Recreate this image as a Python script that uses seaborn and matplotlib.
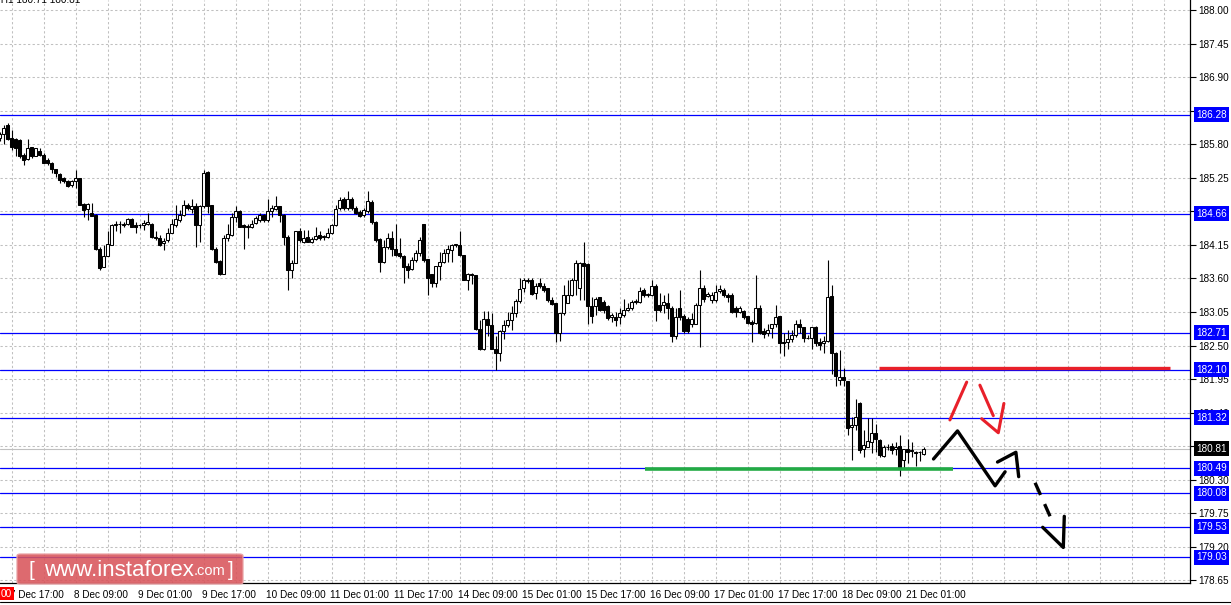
import numpy as np
import matplotlib
matplotlib.use("Agg")
import matplotlib.pyplot as plt
import matplotlib.transforms as mtransforms
from matplotlib.patches import FancyBboxPatch, Rectangle
from matplotlib.text import Annotation
import seaborn as sns

# hourly candles, bar index -1 .. 230
opens = [
    185.90, 185.97, 186.11, 185.90, 185.88, 185.87, 185.62, 185.55, 185.75, 185.61,
    185.69, 185.62, 185.54, 185.49, 185.39, 185.31, 185.24, 185.20, 185.13, 185.19,
    185.24, 184.82, 184.73, 184.68, 184.64, 184.09, 183.79, 183.97, 184.15, 184.47,
    184.49, 184.47, 184.50, 184.57, 184.47, 184.47, 184.47, 184.50, 184.50, 184.28,
    184.27, 184.18, 184.23, 184.35, 184.47, 184.56, 184.64, 184.81, 184.73, 184.78,
    184.47, 184.78, 185.35, 184.80, 184.09, 183.88, 183.68, 184.26, 184.31, 184.60,
    184.70, 184.47, 184.45, 184.44, 184.51, 184.55, 184.64, 184.55, 184.71, 184.73,
    184.78, 184.64, 184.28, 183.74, 183.86, 184.38, 184.20, 184.28, 184.20, 184.24,
    184.31, 184.28, 184.28, 184.35, 184.47, 184.75, 184.90, 184.75, 184.91, 184.76,
    184.69, 184.64, 184.71, 184.86, 184.53, 184.24, 183.87, 184.12, 184.26, 184.09,
    184.01, 183.96, 183.80, 183.75, 183.91, 184.01,
    184.50, 183.92, 183.67, 183.52, 183.80, 183.87, 184.02, 184.06, 184.15, 184.15,
    183.99, 183.58, 183.68, 183.66, 182.77, 182.44, 182.93, 182.83, 182.44, 182.37,
    182.74, 182.83, 182.92, 183.04, 183.23, 183.44, 183.56, 183.58, 183.36, 183.52,
    183.48, 183.44, 183.25, 183.19, 182.70, 183.03, 183.20, 183.33, 183.58, 183.44,
    183.85, 183.84, 183.15, 183.14, 183.29, 183.22, 183.14, 182.96, 182.97, 182.96,
    183.00, 183.09, 183.11, 183.22, 183.22, 183.41, 183.33, 183.33, 183.48, 183.16,
    183.16, 183.20, 183.11, 182.65, 183.11, 182.98, 182.93, 182.86, 182.86, 183.16,
    183.44, 183.31, 183.24, 183.24, 183.40, 183.41, 183.33, 183.33, 183.11, 183.05,
    183.07, 182.98, 182.89, 182.87, 183.11, 182.73, 182.71, 182.78, 182.85, 182.98,
    182.56, 182.56, 182.60, 182.67, 182.85, 182.80, 182.62, 182.62, 182.80, 182.56,
    182.54, 182.57, 183.31, 182.38, 181.93, 181.99, 181.92, 181.17, 181.20, 181.56,
    180.80, 180.84, 180.92, 181.07, 180.95, 180.69, 180.83, 180.85, 180.80, 180.85,
    180.62, 180.80, 180.78, 180.76, 180.76, 180.72,
]
highs = [
    186.00, 186.11, 186.14, 186.03, 185.90, 185.88, 185.65, 185.88, 185.76, 185.74,
    185.73, 185.65, 185.57, 185.51, 185.40, 185.32, 185.27, 185.21, 185.21, 185.38,
    185.25, 184.83, 184.83, 184.83, 184.65, 184.12, 184.15, 184.37, 184.50, 184.54,
    184.54, 184.53, 184.59, 184.59, 184.53, 184.50, 184.56, 184.68, 184.51, 184.37,
    184.31, 184.26, 184.42, 184.57, 184.81, 184.72, 184.89, 184.83, 184.91, 184.83,
    184.80, 185.38, 185.36, 184.81, 184.12, 183.90, 184.31, 184.50, 184.67, 184.78,
    184.72, 184.50, 184.50, 184.55, 184.62, 184.67, 184.66, 184.91, 184.80, 184.95,
    184.79, 184.66, 184.31, 183.90, 184.38, 184.42, 184.39, 184.40, 184.28, 184.45,
    184.37, 184.31, 184.42, 184.50, 184.80, 184.93, 184.94, 185.03, 184.94, 184.78,
    184.72, 184.75, 185.03, 184.89, 184.54, 184.26, 184.23, 184.34, 184.37, 184.50,
    184.26, 183.98, 183.85, 183.95, 184.07, 184.28,
    184.50, 183.92, 183.67, 183.80, 184.04, 184.09, 184.15, 184.17, 184.17, 184.38,
    183.99, 183.69, 183.69, 183.66, 182.92, 183.07, 183.07, 183.04, 182.65, 182.75,
    182.92, 183.05, 183.14, 183.27, 183.60, 183.60, 183.60, 183.60, 183.52, 183.60,
    183.52, 183.45, 183.29, 183.20, 183.04, 183.49, 183.57, 183.60, 183.90, 183.87,
    184.20, 183.85, 183.30, 183.30, 183.30, 183.25, 183.16, 183.03, 183.05, 183.11,
    183.27, 183.20, 183.25, 183.26, 183.46, 183.44, 183.36, 183.57, 183.51, 183.36,
    183.33, 183.36, 183.14, 183.11, 183.41, 183.01, 182.97, 183.03, 183.19, 183.73,
    183.49, 183.38, 183.37, 183.49, 183.49, 183.44, 183.36, 183.36, 183.15, 183.14,
    183.08, 182.99, 182.92, 183.66, 183.16, 182.78, 182.85, 182.86, 183.16, 182.98,
    182.70, 182.75, 182.75, 182.92, 182.93, 182.81, 182.67, 182.81, 182.82, 182.62,
    182.65, 183.91, 183.49, 182.40, 182.43, 182.13, 181.92, 181.33, 181.63, 181.58,
    181.12, 181.31, 181.31, 181.21, 180.96, 180.87, 180.88, 180.90, 180.92, 181.03,
    180.81, 180.96, 180.92, 180.77, 180.77, 180.84,
]
lows = [
    185.85, 185.81, 185.87, 185.70, 185.60, 185.57, 185.46, 185.54, 185.58, 185.60,
    185.61, 185.49, 185.46, 185.32, 185.27, 185.16, 185.16, 185.10, 185.10, 185.08,
    184.80, 184.61, 184.56, 184.62, 184.07, 183.74, 183.79, 183.96, 184.15, 184.37,
    184.34, 184.45, 184.47, 184.44, 184.34, 184.42, 184.39, 184.47, 184.27, 184.23,
    184.13, 184.07, 184.20, 184.34, 184.45, 184.53, 184.62, 184.72, 184.67, 184.12,
    184.20, 184.75, 184.67, 184.07, 183.85, 183.66, 183.67, 184.22, 184.30, 184.53,
    184.44, 184.09, 184.26, 184.42, 184.50, 184.53, 184.53, 184.53, 184.61, 184.72,
    184.53, 184.15, 183.41, 183.60, 183.85, 184.20, 184.18, 184.19, 184.18, 184.23,
    184.23, 184.23, 184.26, 184.33, 184.46, 184.72, 184.72, 184.72, 184.72, 184.66,
    184.60, 184.61, 184.67, 184.50, 184.20, 183.71, 183.86, 184.09, 183.96, 183.96,
    183.93, 183.53, 183.60, 183.73, 183.87, 183.96,
    183.87, 183.33, 183.46, 183.46, 183.57, 183.85, 183.87, 183.87, 184.12, 183.97,
    183.57, 183.41, 183.51, 182.75, 182.43, 182.43, 182.65, 182.44, 182.10, 182.24,
    182.60, 182.81, 182.75, 182.97, 183.20, 183.38, 183.52, 183.33, 183.27, 183.44,
    183.38, 183.22, 183.16, 182.55, 182.58, 183.00, 183.19, 183.31, 183.33, 183.24,
    183.24, 182.86, 182.87, 183.00, 183.07, 183.03, 182.92, 182.89, 182.82, 182.86,
    182.97, 183.07, 183.08, 183.18, 183.20, 183.30, 183.29, 183.31, 182.91, 183.05,
    183.03, 182.93, 182.56, 182.60, 182.92, 182.71, 182.70, 182.81, 182.85, 182.48,
    183.22, 183.30, 183.20, 183.22, 183.36, 183.30, 183.22, 183.04, 182.97, 183.03,
    182.94, 182.85, 182.56, 182.85, 182.69, 182.62, 182.66, 182.62, 182.81, 182.38,
    182.33, 182.45, 182.56, 182.64, 182.70, 182.56, 182.60, 182.45, 182.49, 182.43,
    182.37, 182.56, 182.04, 181.83, 181.85, 181.83, 181.03, 180.62, 181.12, 180.73,
    180.68, 180.83, 180.73, 180.76, 180.68, 180.67, 180.78, 180.72, 180.71, 180.36,
    180.49, 180.57, 180.68, 180.53, 180.61, 180.71,
]
closes = [
    185.97, 186.06, 185.88, 185.75, 185.73, 185.60, 185.54, 185.73, 185.60, 185.73,
    185.63, 185.50, 185.49, 185.40, 185.32, 185.21, 185.19, 185.11, 185.20, 185.24,
    184.81, 184.72, 184.82, 184.62, 184.09, 183.77, 183.97, 184.16, 184.47, 184.50,
    184.50, 184.50, 184.57, 184.45, 184.45, 184.47, 184.51, 184.53, 184.28, 184.27,
    184.15, 184.21, 184.34, 184.49, 184.58, 184.64, 184.81, 184.76, 184.79, 184.47,
    184.78, 185.32, 184.78, 184.08, 183.87, 183.68, 184.27, 184.32, 184.60, 184.70,
    184.45, 184.44, 184.45, 184.50, 184.59, 184.64, 184.55, 184.70, 184.75, 184.78,
    184.64, 184.28, 183.74, 183.85, 184.37, 184.23, 184.27, 184.20, 184.24, 184.30,
    184.27, 184.28, 184.35, 184.47, 184.73, 184.89, 184.75, 184.90, 184.75, 184.68,
    184.62, 184.72, 184.87, 184.53, 184.23, 183.87, 184.12, 184.26, 184.08, 183.98,
    183.96, 183.79, 183.74, 183.91, 184.01, 184.23,
    183.90, 183.60, 183.52, 183.80, 183.87, 184.02, 184.08, 184.15, 184.15, 183.98,
    183.58, 183.68, 183.66, 182.77, 182.44, 182.93, 182.83, 182.45, 182.38, 182.74,
    182.84, 182.92, 183.04, 183.23, 183.42, 183.57, 183.58, 183.34, 183.48, 183.48,
    183.41, 183.24, 183.18, 182.70, 183.03, 183.33, 183.33, 183.58, 183.85, 183.85,
    183.80, 183.14, 182.98, 183.27, 183.09, 183.08, 182.95, 183.00, 182.92, 183.04,
    183.09, 183.12, 183.22, 183.22, 183.39, 183.33, 183.33, 183.48, 183.09, 183.09,
    183.22, 183.11, 182.65, 182.97, 182.97, 182.73, 182.73, 182.93, 183.16, 183.44,
    183.27, 183.35, 183.33, 183.38, 183.42, 183.33, 183.30, 183.05, 183.05, 183.11,
    182.96, 182.87, 182.86, 183.11, 182.70, 182.69, 182.76, 182.85, 182.97, 182.54,
    182.54, 182.60, 182.67, 182.86, 182.80, 182.62, 182.62, 182.80, 182.54, 182.51,
    182.57, 183.30, 182.38, 182.00, 181.99, 181.93, 181.14, 181.20, 181.33, 180.79,
    180.87, 180.94, 181.07, 180.96, 180.71, 180.84, 180.83, 180.79, 180.84, 180.47,
    180.80, 180.76, 180.77, 180.73, 180.75, 180.80,
]

# horizontal levels drawn by the analyst
levels = [186.28, 184.66, 182.71, 182.10, 181.32, 180.49, 180.08, 179.53, 179.03]
bid = 180.81

# price scale
ytick_vals = [188.00, 187.45, 186.90, 186.35, 185.80, 185.25, 184.70, 184.15, 183.60,
              183.05, 182.50, 181.95, 181.40, 180.85, 180.30, 179.75, 179.20, 178.65]

# time scale (bar index of each label)
time_idx = [1, 17, 33, 49, 65, 81, 97, 113, 129, 145, 161, 177, 193, 209, 225]
time_labels = ["7 Dec 17:00", "8 Dec 09:00", "9 Dec 01:00", "9 Dec 17:00", "10 Dec 09:00",
               "11 Dec 01:00", "11 Dec 17:00", "14 Dec 09:00", "15 Dec 01:00", "15 Dec 17:00",
               "16 Dec 09:00", "17 Dec 01:00", "17 Dec 17:00", "18 Dec 09:00", "21 Dec 01:00"]

# annotations (bar index, price)
res_x, res_y = [218.9, 291.6], [182.13, 182.13]
sup_x, sup_y = [160.4, 237.4], [180.47, 180.47]
zig1_x, zig1_y = [232.5, 238.5, 247.9, 250.4], [180.64, 181.10, 180.20, 180.43]
zig2_x, zig2_y = [248.5, 253.1, 253.8], [180.59, 180.75, 180.35]
dash_x, dash_y = [257.9, 262.6], [180.25, 179.56]
tail_x, tail_y = [259.8, 264.95, 265.2], [179.52, 179.19, 179.70]
redA_x, redA_y = [236.6, 240.8], [181.28, 181.90]
redB_x, redB_y = [244.1, 247.45], [181.85, 181.35]
redC_x, redC_y = [244.55, 248.7, 250.1], [181.30, 181.07, 181.55]

sns.set_theme(style="white")
plt.rcParams['font.family'] = ['Liberation Sans', 'DejaVu Sans']

W, H = 1231, 605
fig = plt.figure(figsize=(W / 100, H / 100), dpi=100)
fig.patch.set_facecolor('white')
ax = fig.add_axes([0, 22 / H, 1190 / W, 583 / H])
ax.set_facecolor('white')

x = np.arange(-1, 231)
o = np.array(opens); h = np.array(highs); l = np.array(lows); c = np.array(closes)

ax.set_xlim(-0.875, 296.625)
ax.set_ylim(178.607, 188.164)

# grid
for gx in np.arange(2, 297, 8):
    ax.axvline(gx, color='#c0c0c0', lw=0.75, ls=(0, (2.2, 2.2)), zorder=0)
for gy in ytick_vals:
    ax.axhline(gy, color='#c0c0c0', lw=0.75, ls=(0, (2.2, 2.2)), zorder=0)

# levels
ax.axhline(bid, color='#c0c0c0', lw=0.8, zorder=1)
for lv in levels:
    ax.axhline(lv, color='#0000ff', lw=0.9, zorder=1)

# candles
ax.vlines(x, l, h, color='black', lw=0.8, zorder=3)
bottom = np.minimum(o, c)
height = np.maximum(np.abs(c - o), 0.008)
faces = np.where(c >= o, 'white', 'black')
ax.bar(x, height, bottom=bottom, width=0.65, color=faces, edgecolor='black',
       linewidth=0.75, zorder=4)

# analyst drawings
ax.plot(res_x, res_y, color='#e8202a', lw=2.4, solid_capstyle='butt', zorder=5)
ax.plot(sup_x, sup_y, color='#22aa44', lw=2.6, solid_capstyle='butt', zorder=5)
for xs, ys in [(zig1_x, zig1_y), (zig2_x, zig2_y), (tail_x, tail_y)]:
    sns.lineplot(x=xs, y=ys, sort=False, estimator=None, color='black', lw=2.4, ax=ax,
                 zorder=6)
ax.plot(dash_x, dash_y, color='black', lw=2.4, ls=(0, (4, 3)), zorder=6)
for xs, ys in [(redA_x, redA_y), (redB_x, redB_y), (redC_x, redC_y)]:
    sns.lineplot(x=xs, y=ys, sort=False, estimator=None, color='#e8202a', lw=2.2, ax=ax,
                 zorder=6)

# axes style
for s in ['top', 'left']:
    ax.spines[s].set_visible(False)
for s in ['right', 'bottom']:
    ax.spines[s].set_visible(True)
    ax.spines[s].set_color('black')
    ax.spines[s].set_linewidth(0.9)

ax.yaxis.tick_right()
ax.set_yticks(ytick_vals)
ax.set_yticklabels([f'{v:.2f}' for v in ytick_vals])
ax.set_xticks(time_idx)
ax.set_xticklabels(time_labels)
ax.tick_params(axis='both', direction='out', length=4, width=0.8, color='black',
               labelsize=7.2, labelcolor='black')
ax.tick_params(axis='y', pad=2)
ax.tick_params(axis='x', pad=1)
shift = mtransforms.ScaledTranslation(3 / 100, 0, fig.dpi_scale_trans)
for lab in ax.get_xticklabels():
    lab.set_horizontalalignment('left')
    lab.set_transform(lab.get_transform() + shift)
ax.set_xlabel(''); ax.set_ylabel('')
if ax.get_legend():
    ax.get_legend().remove()

# price boxes on the scale
ytrans = mtransforms.blended_transform_factory(ax.transAxes, ax.transData)
for lv in levels:
    ax.text(1 + 6 / 1190, lv, f'{lv:.2f}', transform=ytrans, ha='left', va='center',
            fontsize=7.2, color='white', zorder=10, clip_on=False,
            bbox=dict(boxstyle='square,pad=0.25', fc='#0000ff', ec='none'))
ax.text(1 + 6 / 1190, bid, f'{bid:.2f}', transform=ytrans, ha='left', va='center',
        fontsize=7.2, color='white', zorder=10, clip_on=False,
        bbox=dict(boxstyle='square,pad=0.25', fc='black', ec='none'))

# symbol line, mostly cut off at the top
fig.text(-2 / W, 1 - 4 / H, ',H1 180.71 180.81', ha='left', va='bottom', fontsize=7.2,
         color='black')

# start-of-chart marker
fig.patches.append(Rectangle((0, 1 - 600 / H), 14 / W, 13 / H, transform=fig.transFigure,
                             fc='#ff0000', ec='none', zorder=20))
fig.text(1 / W, 1 - 594 / H, '00', ha='left', va='center', fontsize=7.2, color='white',
         zorder=21)

# watermark
fig.patches.append(FancyBboxPatch((17 / W, 1 - 584 / H), 226 / W, 30 / H,
                                  boxstyle='round,pad=0,rounding_size=0.003',
                                  transform=fig.transFigure, fc='#d9555b', ec='#e9a0a3',
                                  lw=1.0, alpha=0.88, zorder=20))
fig.text(29 / W, 1 - 570 / H, '[', ha='left', va='center', fontsize=15, color='white',
         zorder=21)
t_main = fig.text(44 / W, 1 - 571 / H, 'www.instaforex', ha='left', va='center',
                  fontsize=16, color='white', zorder=21)
fig.add_artist(Annotation('.com', xy=(1, 0.18), xycoords=t_main, ha='left', va='bottom',
                          fontsize=10.5, color='white', zorder=21))
fig.text(228 / W, 1 - 570 / H, ']', ha='left', va='center', fontsize=15, color='white',
         zorder=21)

# bottom frame line
fig.add_artist(plt.Line2D([0, 1], [1 - 602 / H, 1 - 602 / H], transform=fig.transFigure,
                          color='black', lw=0.8))

fig.savefig('out.png', dpi=100)
